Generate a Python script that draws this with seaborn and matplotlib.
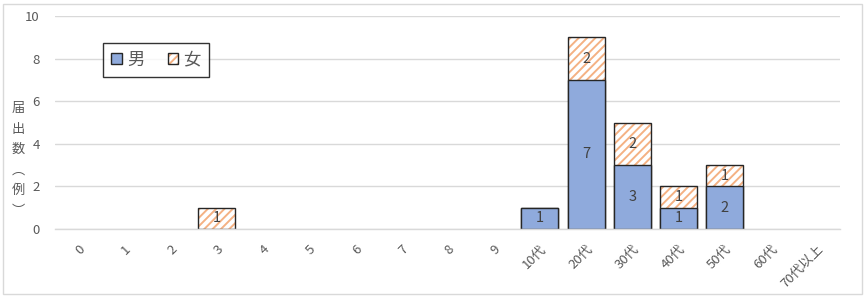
import matplotlib
matplotlib.use("Agg")
import matplotlib.pyplot as plt
from matplotlib.patches import Patch, Rectangle
import seaborn as sns
import pandas as pd

categories = ['0', '1', '2', '3', '4', '5', '6', '7', '8', '9',
              '10代', '20代', '30代', '40代', '50代', '60代', '70代以上']
male = [0, 0, 0, 0, 0, 0, 0, 0, 0, 0, 1, 7, 3, 1, 2, 0, 0]
female = [0, 0, 0, 1, 0, 0, 0, 0, 0, 0, 0, 2, 2, 1, 1, 0, 0]
yticks = [0, 2, 4, 6, 8, 10]
series_names = ['男', '女']
ylabel = '届出数（例）'

BLUE = '#8FAADC'
ORANGE = '#F4B183'
TXT = '#595959'

sns.set_theme(style='white')
plt.rcParams['font.family'] = ['Noto Sans CJK JP', 'DejaVu Sans']
plt.rcParams['hatch.linewidth'] = 1.4

df = pd.DataFrame({'cat': categories, 'male': male, 'female': female})
df['total'] = df['male'] + df['female']

fig = plt.figure(figsize=(8.65, 2.97), dpi=100)
ax = fig.add_axes([55 / 865, 68 / 297, 785 / 865, 213 / 297])

# hatched female layer (total height)
n0 = len(ax.patches)
sns.barplot(data=df, x='cat', y='total', order=categories, ax=ax,
            color='white', width=0.8, linewidth=0, saturation=1)
for p in ax.patches[n0:]:
    p.set_facecolor('white')
    p.set_edgecolor(ORANGE)
    p.set_hatch('////')
    p.set_linewidth(0)
    if p.get_height() == 0:
        p.set_visible(False)
# outline for total
n1 = len(ax.patches)
sns.barplot(data=df, x='cat', y='total', order=categories, ax=ax,
            fill=False, width=0.8, linewidth=1.0, edgecolor='#262626')
for p in ax.patches[n1:]:
    if p.get_height() == 0:
        p.set_visible(False)
# male layer
n2 = len(ax.patches)
sns.barplot(data=df, x='cat', y='male', order=categories, ax=ax,
            color=BLUE, saturation=1, width=0.8, linewidth=1.0, edgecolor='#262626')
for p in ax.patches[n2:]:
    p.set_facecolor(BLUE)
    if p.get_height() == 0:
        p.set_visible(False)

# data labels
for i, (m, f) in enumerate(zip(male, female)):
    if m > 0:
        ax.text(i, m / 2, str(m), ha='center', va='center', fontsize=10.5, color='#404040')
    if f > 0:
        ax.text(i, m + f / 2, str(f), ha='center', va='center', fontsize=10.5, color='#404040')

ax.set_xlim(-0.5, len(categories) - 0.5)
ax.set_ylim(0, 10)
ax.set_yticks(yticks)
ax.set_yticklabels([str(v) for v in yticks], fontsize=9.5, color=TXT)
ax.set_xticks(range(len(categories)))
ax.set_xticklabels(categories, fontsize=9.5, color=TXT, rotation=45,
                   ha='right', va='top', rotation_mode='anchor')
ax.tick_params(axis='x', length=0, pad=10)
ax.tick_params(axis='y', length=0, pad=11)
ax.grid(axis='y', color='#D9D9D9', linewidth=1.0)
ax.set_axisbelow(True)
for s in ['top', 'right', 'left']:
    ax.spines[s].set_visible(False)
ax.spines['bottom'].set_color('#D9D9D9')
ax.spines['bottom'].set_linewidth(1.0)
ax.set_xlabel('')
ax.set_ylabel('')

# y-axis label (vertical text)
fig.text(18 / 865, 1 - 160 / 297, '届\n出\n数\n︵\n例\n︶', ha='center', va='center',
         fontsize=9.5, color=TXT, linespacing=1.75)

# legend
h_m = Patch(facecolor=BLUE, edgecolor='#262626', linewidth=1.0)
h_f1 = Patch(facecolor='white', edgecolor=ORANGE, hatch='////', linewidth=0)
h_f2 = Patch(facecolor='none', edgecolor='#262626', linewidth=1.0)
leg = ax.legend([h_m, (h_f1, h_f2)], series_names, loc='upper left',
                bbox_to_anchor=((103 - 55) / 785, (229 - 43) / 213), borderaxespad=0,
                ncol=2, fontsize=12.5, frameon=True, fancybox=False,
                handlelength=0.62, handleheight=0.62, handletextpad=0.3,
                columnspacing=1.35, borderpad=0.45)
leg.get_frame().set_edgecolor('black')
leg.get_frame().set_linewidth(1.0)
for t in leg.get_texts():
    t.set_color(TXT)

# figure border
fig.patches.append(Rectangle((3 / 865, 3 / 297), 859 / 865, 290 / 297, transform=fig.transFigure,
                             fill=False, edgecolor='#D9D9D9', linewidth=1.0))

fig.savefig('out.png', dpi=100)
